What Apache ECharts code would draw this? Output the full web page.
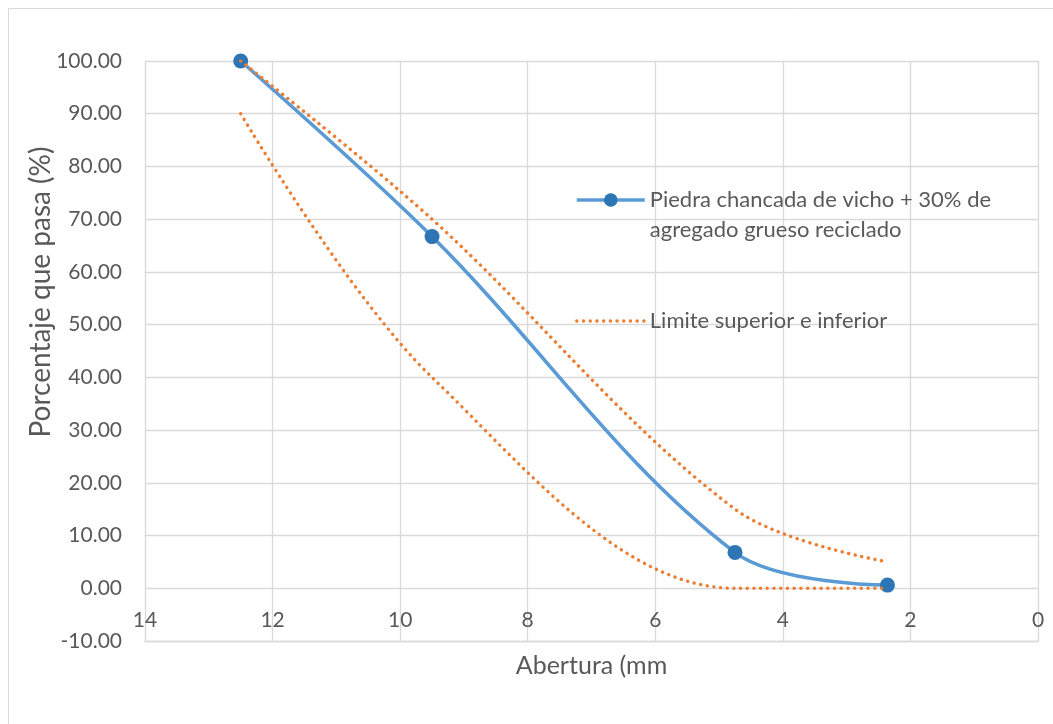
<!DOCTYPE html>
<html>
<head>
<meta charset="utf-8">
<title>Curva granulométrica</title>
<script src="https://cdn.jsdelivr.net/npm/echarts@6/dist/echarts.min.js"></script>
<style>
  html, body { margin: 0; padding: 0; background: #fff; }
  #chart { width: 1053px; height: 724px; }
</style>
</head>
<body>
<div id="chart"></div>
<script>
// Sieve openings (mm) and percent passing
const aberturas = [12.5, 9.5, 4.75, 2.36];
const piedraReciclado = [100, 66.7, 6.8, 0.6];
const limiteSuperior = [100, 70, 15, 5];
const limiteInferior = [90, 40, 0, 0];

const nombreMuestra = 'Piedra chancada de vicho + 30% de\nagregado grueso reciclado';
const nombreLimites = 'Limite superior e inferior';

const toPairs = (xs, ys) => xs.map((x, i) => [x, ys[i]]);

const gris = '#595959';
const rejilla = '#D9D9D9';
const fuente = 'Lato, "Open Sans", sans-serif';

const chart = echarts.init(document.getElementById('chart'), null, { renderer: 'canvas' });

const punteado = {
  color: '#ED7D31',
  width: 3.4,
  type: [0.1, 6.6],
  cap: 'round'
};

chart.setOption({
  animation: false,
  backgroundColor: '#fff',
  textStyle: { fontFamily: fuente },
  graphic: [{
    type: 'rect',
    shape: { x: 8.5, y: 8.5, width: 1200, height: 900 },
    style: { fill: null, stroke: '#D9D9D9', lineWidth: 1 },
    silent: true,
    z: -10
  }],
  grid: {
    left: 145, right: 15, top: 61, bottom: 83,
    containLabel: false,
    outerBoundsMode: 'none'
  },
  legend: {
    orient: 'vertical',
    left: 575,
    top: 155,
    padding: 0,
    itemWidth: 68,
    itemHeight: 17,
    itemGap: 61,
    selectedMode: false,
    // keep the marker level with the first line of a two-line entry
    formatter: name => (name.indexOf('\n') >= 0 ? '\n' + name : name),
    textStyle: {
      color: gris,
      fontSize: 22,
      lineHeight: 30,
      fontFamily: fuente
    },
    data: [
      {
        name: nombreMuestra,
        lineStyle: { color: '#5B9BD5', width: 3.6 }
      },
      {
        name: nombreLimites,
        itemStyle: { color: 'rgba(0,0,0,0)', borderWidth: 0 },
        lineStyle: punteado
      }
    ]
  },
  xAxis: {
    type: 'value',
    min: 0,
    max: 14,
    interval: 2,
    inverse: true,
    name: 'Abertura (mm',
    nameLocation: 'middle',
    nameGap: 12,
    nameMoveOverlap: false,
    nameTextStyle: { color: gris, fontSize: 25 },
    axisLine: { show: true, onZero: false, lineStyle: { color: rejilla, width: 1.3 } },
    axisTick: { show: false },
    // tick labels sit between the 0 and -10 gridlines
    axisLabel: { color: gris, fontSize: 21, inside: true, margin: 10 },
    splitLine: { show: true, lineStyle: { color: rejilla, width: 1.3 } }
  },
  yAxis: {
    type: 'value',
    min: -10,
    max: 100,
    interval: 10,
    name: 'Porcentaje que pasa (%)',
    nameLocation: 'middle',
    nameGap: 90,
    nameMoveOverlap: false,
    nameTextStyle: { color: gris, fontSize: 28, padding: [0, 0, 0, 118] },
    axisLine: { show: false, onZero: false },
    axisTick: { show: false },
    axisLabel: {
      color: gris,
      fontSize: 21,
      margin: 23,
      formatter: v => v.toFixed(2)
    },
    splitLine: { show: true, lineStyle: { color: rejilla, width: 1.3 } }
  },
  series: [
    {
      name: nombreMuestra,
      type: 'line',
      data: toPairs(aberturas, piedraReciclado),
      smooth: 0.35,
      symbol: 'circle',
      symbolSize: 15,
      itemStyle: { color: '#2E75B6' },
      lineStyle: { color: '#5B9BD5', width: 3.6 },
      z: 2
    },
    {
      name: nombreLimites,
      type: 'line',
      data: toPairs(aberturas, limiteSuperior),
      smooth: 0.35,
      symbol: 'none',
      itemStyle: { color: '#ED7D31' },
      lineStyle: punteado,
      z: 3
    },
    {
      name: nombreLimites,
      type: 'line',
      data: toPairs(aberturas, limiteInferior),
      smooth: 0.35,
      symbol: 'none',
      itemStyle: { color: '#ED7D31' },
      lineStyle: punteado,
      z: 3
    }
  ]
});
</script>
</body>
</html>
